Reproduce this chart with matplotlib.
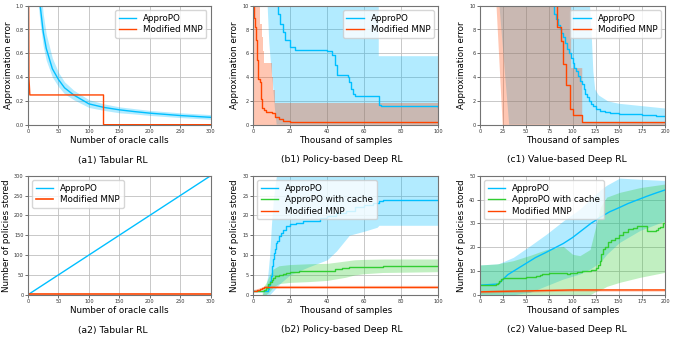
import matplotlib
matplotlib.use("Agg")
import matplotlib.pyplot as plt

plt.rcParams['font.family'] = ['DejaVu Sans']

BLUE = '#00BFFF'
ORANGE = '#FF4500'
GREEN = '#32CD32'

# ---------------- (a1) Tabular RL, approximation error ----------------
a1_x = [15, 20, 25, 30, 40, 50, 60, 75, 100, 125, 150, 175, 200, 250, 300]
a1_appropo = [1.3, 1.0, 0.78, 0.64, 0.47, 0.38, 0.31, 0.25, 0.175, 0.145, 0.125, 0.11, 0.097, 0.077, 0.062]
a1_appropo_hi = [1.5, 1.2, 0.93, 0.76, 0.56, 0.44, 0.36, 0.29, 0.21, 0.175, 0.15, 0.135, 0.12, 0.1, 0.085]
a1_appropo_lo = [1.1, 0.85, 0.66, 0.54, 0.40, 0.32, 0.26, 0.21, 0.145, 0.12, 0.10, 0.09, 0.078, 0.06, 0.045]
a1_mnp_x = [1, 1.5, 3, 124, 124, 300]
a1_mnp = [1.05, 0.4, 0.25, 0.25, 0.0, 0.0]

# ---------------- (b1) Policy-based deep RL, approximation error ----------------
b1_appropo_x = [12.8, 13.7, 14.6, 16.4, 17.3, 20, 22.7, 40, 42.5, 44.3, 45.5, 51, 52, 53, 54, 55, 68, 69, 100]
b1_appropo = [10.5, 9.3, 8.5, 7.8, 7.1, 6.55, 6.3, 6.2, 5.86, 5.0, 4.2, 4.0, 3.6, 3.0, 2.6, 2.4, 1.65, 1.55, 1.5]
b1_appropo_band_x = [7.5, 8.5, 9.5, 10.5, 11.5, 12.5, 67.6, 67.6, 100]
b1_appropo_hi = [10.5, 10.5, 10.5, 10.5, 10.5, 10.5, 10.5, 5.8, 5.8]
b1_appropo_lo = [10.5, 7, 5, 3.5, 1.5, 0.05, 0.05, 0.05, 0.05]
b1_mnp_x = [0.2, 0.6, 1.1, 1.6, 2.0, 2.5, 3.8, 4.3, 5.0, 6.0, 7.0, 10.5, 12.0, 14.0, 16.0, 20.0, 100]
b1_mnp = [10.5, 9.0, 8.2, 7.1, 5.4, 3.8, 3.6, 2.2, 1.4, 1.2, 1.1, 0.95, 0.65, 0.45, 0.3, 0.22, 0.2]
b1_mnp_band_x = [0, 2.9, 3.8, 4.7, 5.6, 6.2, 9.2, 10.0, 11.0, 11.9, 100]
b1_mnp_hi = [10.5, 10.5, 8.5, 7.4, 6.2, 5.2, 5.2, 4.0, 2.9, 1.8, 1.8]
b1_mnp_lo = [0, 0, 0, 0, 0, 0, 0, 0, 0, 0, 0]

# ---------------- (c1) Value-based deep RL, approximation error ----------------
c1_appropo_x = [79, 80.5, 82, 84, 86, 88, 90, 92, 94, 96, 98, 100, 102, 104, 106, 108, 110, 112, 114,
                116, 118, 120, 122, 125, 130, 135, 140, 150, 160, 175, 190, 200]
c1_appropo = [10.5, 9.3, 8.9, 8.4, 8.0, 7.7, 7.4, 6.9, 6.4, 6.0, 5.6, 5.2, 4.8, 4.5, 4.1, 3.7, 3.4, 3.0,
              2.6, 2.3, 2.0, 1.75, 1.55, 1.35, 1.15, 1.05, 1.0, 0.92, 0.87, 0.8, 0.74, 0.7]
c1_appropo_band_x = [20, 31, 118, 120, 122, 124, 128, 138, 150, 175, 200]
c1_appropo_hi = [10.5, 10.5, 10.5, 8, 4.5, 3.0, 2.5, 2.0, 1.8, 1.6, 1.4]
c1_appropo_lo = [10.5, 0.05, 0.05, 0.05, 0.05, 0.05, 0.05, 0.05, 0.05, 0.05, 0.05]
c1_mnp_x = [83, 83, 87.5, 90, 92.5, 97, 100, 110, 200]
c1_mnp = [10.5, 8.2, 7.0, 5.1, 3.3, 1.35, 0.8, 0.2, 0.2]
c1_mnp_band_x = [17, 24, 98, 98, 110, 110, 200]
c1_mnp_hi = [10.5, 10.5, 10.5, 4.8, 4.8, 0.25, 0.25]
c1_mnp_lo = [10.5, 0, 0, 0, 0, 0, 0]

# ---------------- (a2) Tabular RL, policies stored ----------------
a2_x = [0, 300]
a2_appropo = [0, 300]
a2_mnp = [1, 1]

# ---------------- (b2) Policy-based deep RL, policies stored ----------------
b2_appropo_x = [0, 7, 8, 8.5, 9, 9.5, 10, 10.5, 11, 11.5, 12, 12.5, 13, 14, 15, 16, 18, 20, 23, 27,
                32, 36, 40, 45, 50, 55, 60, 65, 68, 70, 100]
b2_appropo = [1, 1, 1.5, 2.5, 3.5, 4.7, 6, 7.2, 9, 10.6, 11.5, 13, 13.5, 14.8, 15.5, 16.3, 17.2, 17.8,
              18.2, 18.5, 18.7, 19.3, 19.8, 20.5, 21.2, 22, 22.5, 23, 23.5, 24, 24]
b2_appropo_band_x = [5, 7, 8, 9, 10, 11, 12, 13, 15, 20, 30, 40, 45, 52, 60, 67, 68, 100]
b2_appropo_hi = [0, 2, 5, 10, 18, 24, 28, 31, 31, 31, 31, 31, 31, 31, 31, 31, 31, 31]
b2_appropo_lo = [0, 0, 0, 0, 0.5, 1, 1.5, 2, 3, 5, 7, 8.8, 11, 15, 16, 17, 17.5, 17.5]
b2_cache_x = [0, 6, 7, 8, 9, 10, 11, 12, 14, 16, 18, 20, 25, 40, 44, 48, 52, 56, 70, 100]
b2_cache = [1, 1.2, 1.8, 2.6, 3.2, 3.8, 4.2, 4.6, 4.9, 5.2, 5.5, 5.7, 5.9, 6.1, 6.4, 6.7, 6.9, 7.1, 7.3, 7.3]
b2_cache_band_x = [5, 7, 9, 11, 14, 20, 30, 40, 50, 55, 60, 70, 100]
b2_cache_hi = [1.5, 3, 5, 6.5, 7.3, 7.6, 7.8, 7.9, 8.5, 8.8, 8.9, 9.0, 9.0]
b2_cache_lo = [0, 0, 0.8, 2, 2.8, 3.1, 3.3, 3.6, 4.4, 5, 5.3, 5.6, 5.8]
b2_mnp_x = [0, 2, 4, 5, 6, 7, 100]
b2_mnp = [1, 1.2, 1.5, 1.7, 1.9, 2, 2]
b2_mnp_hi = [1.3, 1.5, 1.8, 2.0, 2.2, 2.35, 2.35]
b2_mnp_lo = [0.8, 0.9, 1.2, 1.4, 1.6, 1.7, 1.7]

# ---------------- (c2) Value-based deep RL, policies stored ----------------
c2_appropo_x = [0, 20, 25, 30, 40, 50, 60, 70, 80, 90, 100, 110, 120, 130, 140, 150, 160, 170, 180, 190, 200]
c2_appropo = [4, 4.5, 6.5, 8.4, 10.8, 13.2, 15.6, 17.5, 19.5, 21.5, 24, 27, 30, 32.5, 34.8, 36.5, 38.3,
              39.8, 41.3, 42.7, 44]
c2_appropo_band_x = [0, 20, 36, 54, 72, 90, 108, 119, 130, 137, 151, 173, 200]
c2_appropo_hi = [12.5, 13, 15.7, 20.5, 25.5, 31, 36, 40, 44, 46, 49, 48.5, 48]
c2_appropo_lo = [0, 0, 0, 1, 3.8, 6.6, 8.7, 10.8, 13.6, 17, 22, 27, 31]
c2_cache_x = [0, 17, 19, 21, 23, 25, 27, 30, 50, 55, 60, 65, 67, 75, 92, 94, 97, 100, 105, 110,
              120, 125, 128, 130, 131, 133, 135, 138, 142, 146, 150, 155, 160, 165, 170, 176, 180, 190,
              192, 195, 198, 200]
c2_cache = [4, 4.3, 5, 5.6, 6.4, 7, 7.2, 7.2, 7.3, 7.6, 8.0, 8.4, 8.8, 9.3, 9.3, 8.6, 9.0, 9.3, 9.6, 10,
            10.5, 11.2, 12.4, 14, 17, 19, 20, 22, 23, 24, 25, 26.5, 27.5, 28, 28.8, 29, 26.9, 27,
            28.2, 28.5, 30, 30]
c2_cache_band_x = [0, 18, 36, 54, 72, 90, 100, 108, 119, 126, 130, 137, 151, 173, 200]
c2_cache_hi = [12.5, 12.9, 14.3, 16.5, 19, 20.3, 17, 16.4, 19, 30, 36.7, 41, 43, 45, 46.5]
c2_cache_lo = [0, 0, 0, 0, 0, 0, 0, 0, 0, 1.5, 2, 3.5, 5.2, 7.3, 9.4]
c2_mnp_x = [0, 25, 50, 75, 100, 200]
c2_mnp = [1.2, 1.4, 1.6, 1.8, 2.0, 2.0]
c2_mnp_hi = [1.8, 2.0, 2.2, 2.3, 2.4, 2.4]
c2_mnp_lo = [0.7, 0.9, 1.1, 1.3, 1.5, 1.5]

captions = ['(a1) Tabular RL', '(b1) Policy-based Deep RL', '(c1) Value-based Deep RL',
            '(a2) Tabular RL', '(b2) Policy-based Deep RL', '(c2) Value-based Deep RL']

W, H = 675, 339
fig = plt.figure(figsize=(W / 100, H / 100), dpi=100)


def make_ax(left, right, top, bottom):
    ax = fig.add_axes([left / W, 1 - bottom / H, (right - left) / W, (bottom - top) / H])
    ax.grid(True, color='0.75', linewidth=0.6)
    ax.set_axisbelow(True)
    for s in ax.spines.values():
        s.set_color('0.45')
        s.set_linewidth(0.8)
    ax.tick_params(labelsize=3.6, length=2, width=0.5, pad=1.2, colors='0.2')
    return ax


def style(ax, xlabel, ylabel, xlim, ylim, xticks, yticks, loc, yfmt=None):
    ax.set_xlim(*xlim)
    ax.set_ylim(*ylim)
    ax.set_xticks(xticks)
    ax.set_yticks(yticks)
    if yfmt:
        ax.set_yticklabels([yfmt % v for v in yticks])
    ax.set_xlabel(xlabel, fontsize=6.3, labelpad=1.5)
    ax.set_ylabel(ylabel, fontsize=6.3, labelpad=2)
    ax.legend(loc=loc, fontsize=6.3, framealpha=0.8, edgecolor='0.8',
              borderpad=0.4, labelspacing=0.3, handlelength=2.0)


cols = [(28, 210.7), (253, 438.3), (480, 665)]
rows = [(5.7, 124.7), (175.7, 294.7)]
cap_x = [113, 342, 567]
cap_y = [160, 330]

# row 1
ax = make_ax(cols[0][0], cols[0][1], *rows[0])
ax.fill_between(a1_x, a1_appropo_lo, a1_appropo_hi, color=BLUE, alpha=0.3, linewidth=0)
ax.plot(a1_x, a1_appropo, color=BLUE, lw=1, label='ApproPO')
ax.plot(a1_mnp_x, a1_mnp, color=ORANGE, lw=1, label='Modified MNP')
style(ax, 'Number of oracle calls', 'Approximation error', (0, 300), (0, 1.0),
      range(0, 301, 50), [0, 0.2, 0.4, 0.6, 0.8, 1.0], 'upper right', '%.1f')

ax = make_ax(cols[1][0], cols[1][1], *rows[0])
ax.fill_between(b1_appropo_band_x, b1_appropo_lo, b1_appropo_hi, color=BLUE, alpha=0.3, linewidth=0)
ax.fill_between(b1_mnp_band_x, b1_mnp_lo, b1_mnp_hi, step='post', color=ORANGE, alpha=0.3, linewidth=0)
ax.step(b1_appropo_x, b1_appropo, where='post', color=BLUE, lw=1, label='ApproPO')
ax.step(b1_mnp_x, b1_mnp, where='post', color=ORANGE, lw=1, label='Modified MNP')
style(ax, 'Thousand of samples', 'Approximation error', (0, 100), (0, 10),
      range(0, 101, 20), range(0, 11, 2), 'upper right')

ax = make_ax(cols[2][0], cols[2][1], *rows[0])
ax.fill_between(c1_appropo_band_x, c1_appropo_lo, c1_appropo_hi, color=BLUE, alpha=0.3, linewidth=0)
ax.fill_between(c1_mnp_band_x, c1_mnp_lo, c1_mnp_hi, color=ORANGE, alpha=0.3, linewidth=0)
ax.step(c1_appropo_x, c1_appropo, where='post', color=BLUE, lw=1, label='ApproPO')
ax.step(c1_mnp_x, c1_mnp, where='post', color=ORANGE, lw=1, label='Modified MNP')
style(ax, 'Thousand of samples', 'Approximation error', (0, 200), (0, 10),
      range(0, 201, 25), range(0, 11, 2), 'upper right')

# row 2
ax = make_ax(cols[0][0], cols[0][1], *rows[1])
ax.plot(a2_x, a2_appropo, color=BLUE, lw=1, label='ApproPO')
ax.plot(a2_x, a2_mnp, color=ORANGE, lw=1.2, label='Modified MNP')
style(ax, 'Number of oracle calls', 'Number of policies stored', (0, 300), (0, 300),
      range(0, 301, 50), range(0, 301, 50), 'upper left')

ax = make_ax(cols[1][0], cols[1][1], *rows[1])
ax.fill_between(b2_appropo_band_x, b2_appropo_lo, b2_appropo_hi, color=BLUE, alpha=0.3, linewidth=0)
ax.fill_between(b2_cache_band_x, b2_cache_lo, b2_cache_hi, color=GREEN, alpha=0.3, linewidth=0)
ax.fill_between(b2_mnp_x, b2_mnp_lo, b2_mnp_hi, color=ORANGE, alpha=0.3, linewidth=0)
ax.step(b2_appropo_x, b2_appropo, where='post', color=BLUE, lw=1, label='ApproPO')
ax.step(b2_cache_x, b2_cache, where='post', color=GREEN, lw=1, label='ApproPO with cache')
ax.step(b2_mnp_x, b2_mnp, where='post', color=ORANGE, lw=1, label='Modified MNP')
style(ax, 'Thousand of samples', 'Number of policies stored', (0, 100), (0, 30),
      range(0, 101, 20), range(0, 31, 5), 'upper left')

ax = make_ax(cols[2][0], cols[2][1], *rows[1])
ax.fill_between(c2_appropo_band_x, c2_appropo_lo, c2_appropo_hi, color=BLUE, alpha=0.3, linewidth=0)
ax.fill_between(c2_cache_band_x, c2_cache_lo, c2_cache_hi, color=GREEN, alpha=0.3, linewidth=0)
ax.fill_between(c2_mnp_x, c2_mnp_lo, c2_mnp_hi, color=ORANGE, alpha=0.3, linewidth=0)
ax.plot(c2_appropo_x, c2_appropo, color=BLUE, lw=1, label='ApproPO')
ax.step(c2_cache_x, c2_cache, where='post', color=GREEN, lw=1, label='ApproPO with cache')
ax.plot(c2_mnp_x, c2_mnp, color=ORANGE, lw=1, label='Modified MNP')
style(ax, 'Thousand of samples', 'Number of policies stored', (0, 200), (0, 50),
      range(0, 201, 25), range(0, 51, 10), 'upper left')

for i, cap in enumerate(captions):
    fig.text(cap_x[i % 3] / W, 1 - cap_y[i // 3] / H, cap, fontsize=6.7,
             ha='center', va='center')

fig.savefig('out.png', dpi=100)
